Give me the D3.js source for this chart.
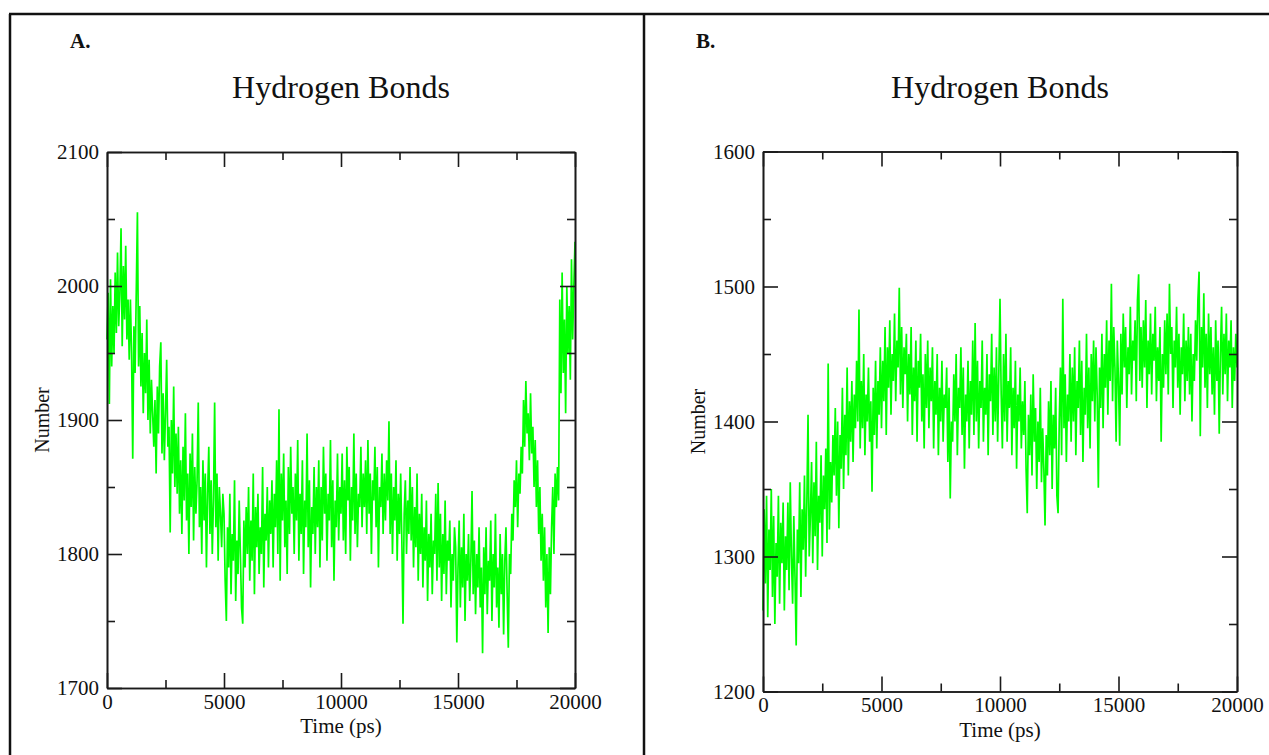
<!DOCTYPE html>
<html>
<head>
<meta charset="utf-8">
<script src="https://cdn.jsdelivr.net/npm/d3@7"></script>
<style>
  html, body { margin: 0; padding: 0; background: #fff; }
  svg { display: block; }
  text { font-family: "Liberation Serif", "Times New Roman", serif; fill: #111; }
</style>
</head>
<body>
<svg id="chart" width="1269" height="755"></svg>
<script>
// ---- Data (sampled every 50 ps, 0..20000 ps) ----
const timeStep = 50;
const xTicksMajor = [0, 5000, 10000, 15000, 20000];
const xTicksMinor = [2500, 7500, 12500, 17500];
const yTicksA = [1700, 1800, 1900, 2000, 2100];
const yMinorA = [1750, 1850, 1950, 2050];
const yTicksB = [1200, 1300, 1400, 1500, 1600];
const yMinorB = [1250, 1350, 1450, 1550];
const panelLabels = ["A.", "B."];
const titles = ["Hydrogen Bonds", "Hydrogen Bonds"];
const xLabel = "Time (ps)";
const yLabel = "Number";

const hbondsA = [
1960,1995,1912,2005,1940,1985,1950,2010,1965,2025,1970,1995,2043,1955,2015,1975,2030,1960,1990,1945,
1990,1950,1871,1970,1935,1995,2055,1940,1985,1925,1965,1905,1950,1920,1975,1900,1945,1890,1930,1905,
1880,1915,1860,1925,1890,1940,1958,1875,1920,1870,1905,1945,1880,1895,1816,1900,1860,1925,1850,1890,
1845,1895,1830,1870,1815,1880,1840,1905,1825,1860,1800,1875,1835,1890,1810,1865,1830,1855,1913,1820,
1850,1800,1870,1825,1860,1790,1845,1880,1815,1855,1800,1840,1913,1820,1860,1795,1850,1830,1805,1845,
1830,1780,1750,1820,1790,1845,1770,1815,1795,1855,1765,1810,1785,1840,1800,1760,1748,1825,1790,1835,
1800,1850,1780,1825,1795,1860,1770,1835,1805,1845,1785,1820,1800,1865,1775,1830,1810,1850,1790,1840,
1815,1855,1790,1845,1820,1870,1800,1908,1780,1860,1825,1875,1805,1840,1785,1865,1815,1880,1830,1850,
1800,1860,1825,1885,1795,1845,1815,1870,1785,1840,1820,1890,1805,1855,1775,1835,1815,1865,1800,1850,
1820,1870,1790,1850,1810,1880,1830,1860,1795,1845,1825,1885,1805,1855,1780,1840,1820,1875,1810,1850,
1830,1875,1810,1855,1800,1880,1840,1865,1795,1850,1825,1890,1815,1860,1805,1845,1835,1880,1820,1860,
1835,1870,1815,1885,1830,1860,1800,1855,1840,1880,1820,1865,1790,1850,1835,1875,1815,1860,1825,1870,
1840,1899,1815,1860,1800,1850,1825,1870,1795,1845,1815,1860,1810,1748,1830,1855,1800,1840,1815,1865,
1810,1850,1790,1835,1805,1860,1780,1830,1800,1845,1775,1820,1795,1840,1765,1815,1790,1830,1770,1810,
1800,1845,1780,1853,1790,1830,1765,1815,1785,1840,1770,1810,1795,1825,1760,1800,1780,1820,1805,1734,
1790,1825,1760,1805,1775,1830,1750,1800,1780,1815,1765,1795,1847,1770,1810,1755,1800,1775,1820,1760,
1790,1726,1805,1770,1820,1755,1795,1780,1825,1750,1800,1775,1830,1760,1790,1745,1815,1770,1800,1740,
1795,1820,1770,1730,1800,1785,1830,1810,1855,1835,1870,1820,1860,1845,1880,1860,1915,1880,1929,1890,
1905,1870,1920,1875,1895,1850,1885,1835,1870,1815,1850,1795,1830,1780,1820,1760,1800,1741,1805,1770,
1820,1850,1800,1860,1835,1865,1840,1990,1920,2010,1935,1975,1905,2000,1950,1985,1930,2020,1960,2000,
2033
];

const hbondsB = [
1260,1335,1280,1345,1255,1320,1290,1350,1270,1330,1250,1310,1285,1345,1265,1325,1295,1340,1260,1315,
1290,1340,1275,1355,1300,1265,1330,1285,1234,1320,1295,1355,1270,1335,1305,1360,1285,1340,1405,1300,
1330,1370,1295,1355,1315,1385,1290,1345,1325,1375,1300,1360,1335,1380,1310,1443,1320,1370,1340,1390,
1360,1410,1345,1400,1321,1390,1365,1425,1350,1405,1375,1440,1360,1415,1385,1430,1370,1420,1395,1445,
1400,1483,1380,1430,1395,1450,1375,1420,1400,1440,1385,1415,1348,1425,1390,1445,1380,1430,1405,1455,
1395,1445,1415,1470,1390,1455,1425,1475,1405,1450,1430,1480,1415,1460,1440,1499,1420,1470,1410,1455,
1435,1465,1400,1450,1420,1470,1390,1440,1415,1460,1385,1445,1425,1465,1400,1435,1380,1450,1410,1460,
1395,1440,1415,1455,1380,1430,1405,1450,1375,1425,1400,1445,1385,1420,1410,1440,1370,1425,1343,1400,
1385,1435,1400,1450,1375,1425,1410,1455,1390,1440,1365,1420,1400,1445,1380,1430,1405,1460,1390,1473,
1400,1445,1380,1430,1410,1460,1385,1425,1405,1450,1375,1435,1415,1465,1390,1440,1400,1455,1385,1435,
1491,1420,1380,1450,1400,1465,1385,1430,1410,1455,1375,1425,1395,1445,1365,1420,1400,1440,1380,1415,
1390,1430,1365,1332,1405,1375,1420,1360,1435,1385,1410,1350,1400,1370,1425,1355,1395,1365,1323,1390,
1360,1415,1375,1430,1350,1405,1380,1425,1345,1332,1400,1440,1375,1491,1395,1435,1370,1420,1400,1450,
1385,1440,1400,1455,1375,1430,1410,1460,1390,1445,1370,1425,1405,1465,1395,1440,1380,1450,1415,1460,
1400,1455,1420,1351,1440,1410,1465,1395,1450,1425,1475,1405,1460,1430,1502,1415,1470,1440,1385,1460,
1430,1382,1465,1420,1480,1440,1470,1410,1455,1435,1485,1420,1460,1445,1475,1415,1490,1509,1430,1470,
1425,1475,1440,1490,1410,1460,1435,1480,1420,1465,1445,1485,1415,1455,1430,1470,1385,1450,1425,1475,
1435,1480,1420,1502,1450,1470,1410,1460,1440,1485,1425,1465,1405,1455,1435,1480,1415,1460,1430,1470,
1420,1465,1400,1450,1430,1475,1445,1490,1511,1389,1470,1440,1495,1425,1465,1410,1480,1435,1470,1420,
1455,1405,1475,1430,1460,1391,1450,1485,1420,1465,1435,1480,1415,1460,1440,1475,1410,1455,1430,1465,
1440
];

// ---- Drawing ----
const svg = d3.select("#chart");
svg.append("rect").attr("width", 1269).attr("height", 755).attr("fill", "#fff");

// outer frame lines
const frame = svg.append("g").attr("stroke", "#111").attr("stroke-width", 2.5).attr("fill", "none");
frame.append("line").attr("x1", 9).attr("x2", 1269).attr("y1", 14).attr("y2", 14);
frame.append("line").attr("x1", 10).attr("x2", 10).attr("y1", 14).attr("y2", 755);
frame.append("line").attr("x1", 644).attr("x2", 644).attr("y1", 14).attr("y2", 755);

const panels = [
  { values: hbondsA, left: 107, right: 575, top: 152, bottom: 688, yDomain: [1700, 2100],
    yTicks: yTicksA, yMinor: yMinorA, label: panelLabels[0], labelX: 70, title: titles[0], yLabX: 49 },
  { values: hbondsB, left: 763, right: 1237, top: 151.5, bottom: 691.5, yDomain: [1200, 1600],
    yTicks: yTicksB, yMinor: yMinorB, label: panelLabels[1], labelX: 696, title: titles[1], yLabX: 705 }
];

function styleAxis(g) {
  g.select(".domain").attr("stroke", "#1a1a1a").attr("stroke-width", 1.6);
  g.selectAll(".tick line").attr("stroke", "#1a1a1a").attr("stroke-width", 1.6);
  g.selectAll(".tick text").attr("font-size", 21).attr("fill", "#111")
    .attr("font-family", "Liberation Serif, Times New Roman, serif");
}

panels.forEach(p => {
  const x = d3.scaleLinear().domain([0, 20000]).range([p.left, p.right]);
  const y = d3.scaleLinear().domain(p.yDomain).range([p.bottom, p.top]);
  const g = svg.append("g");

  // data line
  const line = d3.line()
    .x((d, i) => x(i * timeStep))
    .y(d => y(d));
  g.append("path")
    .datum(p.values)
    .attr("d", line)
    .attr("fill", "none")
    .attr("stroke", "#00ff00")
    .attr("stroke-width", 1.7)
    .attr("stroke-linejoin", "miter");

  // axes: major
  g.append("g").attr("transform", `translate(0,${p.bottom})`)
    .call(d3.axisBottom(x).tickValues(xTicksMajor).tickSize(-15).tickSizeOuter(0).tickPadding(6).tickFormat(d3.format("d")))
    .call(styleAxis);
  g.append("g").attr("transform", `translate(0,${p.top})`)
    .call(d3.axisTop(x).tickValues(xTicksMajor).tickSize(-15).tickSizeOuter(0).tickFormat(""))
    .call(styleAxis);
  g.append("g").attr("transform", `translate(${p.left},0)`)
    .call(d3.axisLeft(y).tickValues(p.yTicks).tickSize(-15).tickSizeOuter(0).tickPadding(8).tickFormat(d3.format("d")))
    .call(styleAxis);
  g.append("g").attr("transform", `translate(${p.right},0)`)
    .call(d3.axisRight(y).tickValues(p.yTicks).tickSize(-15).tickSizeOuter(0).tickFormat(""))
    .call(styleAxis);

  // axes: minor
  g.append("g").attr("transform", `translate(0,${p.bottom})`)
    .call(d3.axisBottom(x).tickValues(xTicksMinor).tickSize(-8).tickSizeOuter(0).tickFormat(""))
    .call(styleAxis);
  g.append("g").attr("transform", `translate(0,${p.top})`)
    .call(d3.axisTop(x).tickValues(xTicksMinor).tickSize(-8).tickSizeOuter(0).tickFormat(""))
    .call(styleAxis);
  g.append("g").attr("transform", `translate(${p.left},0)`)
    .call(d3.axisLeft(y).tickValues(p.yMinor).tickSize(-8).tickSizeOuter(0).tickFormat(""))
    .call(styleAxis);
  g.append("g").attr("transform", `translate(${p.right},0)`)
    .call(d3.axisRight(y).tickValues(p.yMinor).tickSize(-8).tickSizeOuter(0).tickFormat(""))
    .call(styleAxis);

  const cx = (p.left + p.right) / 2;
  // title
  g.append("text").attr("x", cx).attr("y", 98).attr("text-anchor", "middle")
    .attr("font-size", 32).text(p.title);
  // panel label
  g.append("text").attr("x", p.labelX).attr("y", 48).attr("font-size", 21)
    .attr("font-weight", "bold").text(p.label);
  // x label
  g.append("text").attr("x", cx).attr("y", p.bottom + 45).attr("text-anchor", "middle")
    .attr("font-size", 21).text(xLabel);
  // y label
  g.append("text").attr("transform", `translate(${p.yLabX},${(p.top + p.bottom) / 2}) rotate(-90)`)
    .attr("text-anchor", "middle").attr("font-size", 20).text(yLabel);
});
</script>
</body>
</html>
